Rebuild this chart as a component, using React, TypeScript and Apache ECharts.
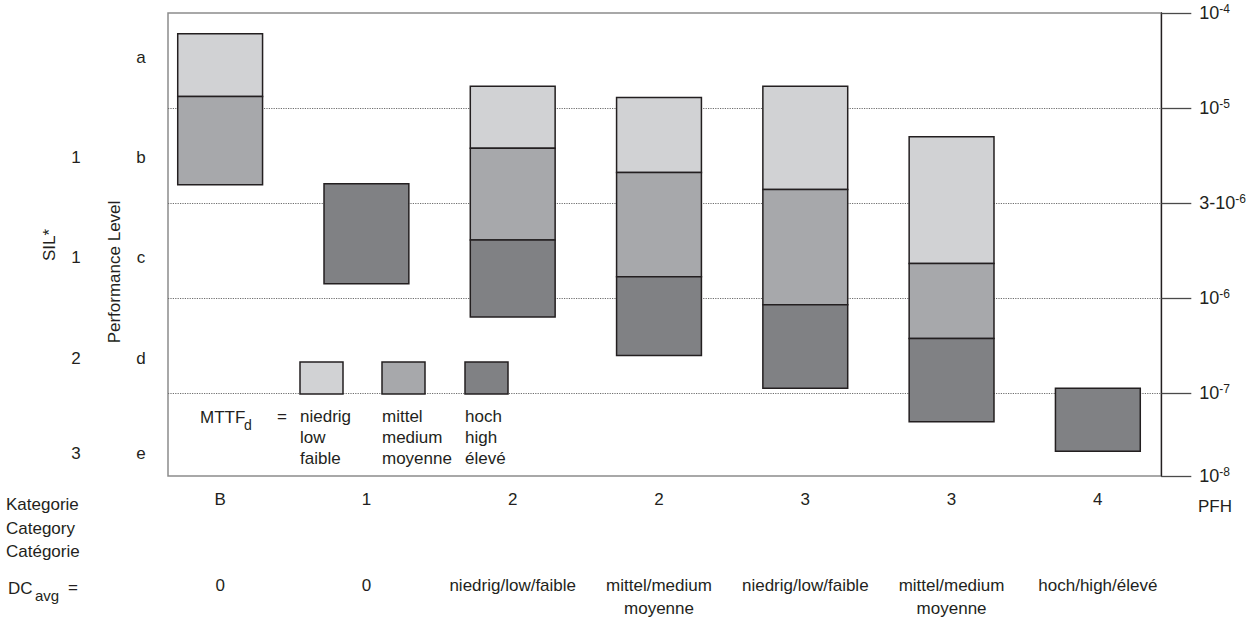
import React, { useEffect, useRef } from "react";
import * as echarts from "echarts";

// ---------- data ----------
// PL scale units: 10^-7 = 0, 10^-6 = 1, 3·10^-6 = 2, 10^-5 = 3, 10^-4 = 4, 10^-8 = -0.87
const categories = ["B", "1", "2", "2", "3", "3", "4"];
const dcLabels = [
  "0",
  "0",
  "niedrig/low/faible",
  "mittel/medium\nmoyenne",
  "niedrig/low/faible",
  "mittel/medium\nmoyenne",
  "hoch/high/élevé",
];
// [bottom, top] of each MTTFd band per category
const lowMTTF: (number[] | null)[] = [[3.11, 3.78], null, [2.56, 3.22], [2.3, 3.1], [2.12, 3.22], [1.33, 2.68], null];
const mediumMTTF: (number[] | null)[] = [[2.17, 3.11], null, [1.58, 2.56], [1.19, 2.3], [0.89, 2.12], [0.53, 1.33], null];
const highMTTF: (number[] | null)[] = [null, [1.115, 2.18], [0.76, 1.58], [0.35, 1.19], [0.0, 0.89], [-0.355, 0.53], [-0.67, 0.0]];

const pfhTickValues = [4, 3, 2, 1, 0, -0.87];
const pfhMantissa = ["10", "10", "3-10", "10", "10", "10"];
const pfhExponent = ["-4", "-5", "-6", "-6", "-7", "-8"];
const gridValues = [3, 2, 1, 0];

const plLetters = ["a", "b", "c", "d", "e"];
const silLabels = ["", "1", "1", "2", "3"];
const mttfLegend = ["niedrig\nlow\nfaible", "mittel\nmedium\nmoyenne", "hoch\nhigh\nélevé"];

// ---------- styles ----------
const FONT = '"Liberation Sans", Arial, sans-serif';
const FS = 17;
const INK = "#231f20";
const FILLS = ["#d1d2d4", "#a7a8ab", "#808184"];
const Y_MIN = -0.87;
const Y_MAX = 4;

export default function App() {
  const ref = useRef<HTMLDivElement>(null);

  useEffect(() => {
    const chart = echarts.init(ref.current!, null, { renderer: "svg" });

    const segs: number[][] = [];
    [lowMTTF, mediumMTTF, highMTTF].forEach((arr, level) =>
      arr.forEach((r, i) => {
        if (r) segs.push([i, r[0], r[1], level]);
      })
    );

    const txt = (text: string, x: number, y: number, extra: any = {}) => ({
      type: "text",
      x,
      y,
      silent: true,
      style: {
        text,
        fontFamily: FONT,
        fontSize: FS,
        fill: INK,
        textAlign: "left",
        textVerticalAlign: "middle",
        ...extra,
      },
    });

    const plRowsY = [57, 157, 257, 358, 453];
    const graphics: any[] = [];
    plLetters.forEach((l, i) => graphics.push(txt(l, 141, plRowsY[i], { textAlign: "center" })));
    silLabels.forEach((l, i) => {
      if (l) graphics.push(txt(l, 76, plRowsY[i], { textAlign: "center" }));
    });
    graphics.push({ ...txt("SIL*", 49, 245, { textAlign: "center" }), rotation: Math.PI / 2 });
    graphics.push({ ...txt("Performance Level", 114, 272, { textAlign: "center" }), rotation: Math.PI / 2 });

    // MTTFd legend
    const swX = [300, 382, 465];
    swX.forEach((x, i) => {
      graphics.push({
        type: "rect",
        shape: { x, y: 362, width: 43, height: 32 },
        style: { fill: FILLS[i], stroke: INK, lineWidth: 1.5 },
        z: 10,
        silent: true,
      });
      graphics.push(txt(mttfLegend[i], x, 406, { textVerticalAlign: "top", lineHeight: 21 }));
    });
    graphics.push(txt("MTTF", 200, 417));
    graphics.push(txt("d", 244, 425, { fontSize: 14 }));
    graphics.push(txt("=", 277, 416));

    // bottom left captions
    graphics.push(txt("Kategorie\nCategory\nCatégorie", 6, 493, { textVerticalAlign: "top", lineHeight: 23.5 }));
    graphics.push(txt("DC", 8, 588));
    graphics.push(txt("avg", 35, 595, { fontSize: 15 }));
    graphics.push(txt("=", 68, 587));
    graphics.push(txt("PFH", 1198, 506));

    const option: any = {
      animation: false,
      backgroundColor: "#ffffff",
      textStyle: { fontFamily: FONT },
      grid: [
        { left: 168, right: 87, top: 13, bottom: 144, show: true, borderColor: "#8c8c8c", borderWidth: 1.5, backgroundColor: "transparent" },
        { left: 147, right: 78, top: 13, bottom: 144, show: false },
      ],
      xAxis: [
        { gridIndex: 0, type: "value", min: 0, max: 1, show: false },
        {
          gridIndex: 1,
          type: "category",
          data: categories.map((_, i) => String(i)),
          axisLine: { show: false },
          axisTick: { show: false },
          splitLine: { show: false },
          axisLabel: {
            interval: 0,
            margin: 21,
            fontSize: FS,
            color: INK,
            fontFamily: FONT,
            formatter: (v: string) => categories[Number(v)],
          },
        },
        {
          gridIndex: 1,
          type: "category",
          position: "bottom",
          offset: 83,
          data: categories.map((_, i) => String(i)),
          axisLine: { show: false },
          axisTick: { show: false },
          splitLine: { show: false },
          axisLabel: {
            interval: 0,
            margin: 21,
            fontSize: FS,
            lineHeight: 23,
            color: INK,
            fontFamily: FONT,
            hideOverlap: false,
            formatter: (v: string) => dcLabels[Number(v)],
          },
        },
      ],
      yAxis: [
        {
          gridIndex: 0,
          type: "value",
          position: "right",
          min: Y_MIN,
          max: Y_MAX,
          splitLine: { show: false },
          axisLine: { show: true, onZero: false, lineStyle: { color: INK, width: 1.3 } },
          axisTick: { show: true, inside: false, length: 30, customValues: pfhTickValues, lineStyle: { color: "#4a4a4a", width: 1.3 } },
          axisLabel: {
            show: true,
            margin: 38,
            customValues: pfhTickValues,
            formatter: (v: number) => {
              const i = pfhTickValues.findIndex((t) => Math.abs(t - v) < 1e-6);
              if (i < 0) return "";
              return `{b|${pfhMantissa[i]}}{s|${pfhExponent[i]}}`;
            },
            rich: {
              b: { fontSize: 18, color: INK, fontFamily: FONT, lineHeight: 20 },
              s: { fontSize: 12, color: INK, fontFamily: FONT, verticalAlign: "top", lineHeight: 12 },
            },
          },
        },
        { gridIndex: 1, type: "value", min: Y_MIN, max: Y_MAX, show: false },
      ],
      graphic: graphics,
      series: [
        {
          type: "line",
          xAxisIndex: 0,
          yAxisIndex: 0,
          data: [[0, 0]],
          symbol: "none",
          lineStyle: { opacity: 0 },
          silent: true,
          z: 1,
          markLine: {
            silent: true,
            symbol: "none",
            label: { show: false },
            lineStyle: { type: "dotted", color: "#6d6d6d", width: 1.2 },
            data: gridValues.map((v) => ({ yAxis: v })),
          },
        },
        {
          type: "custom",
          xAxisIndex: 1,
          yAxisIndex: 1,
          z: 5,
          silent: true,
          encode: { x: 0, y: [1, 2] },
          data: segs,
          renderItem: (params: any, api: any) => {
            const i = api.value(0);
            const top = api.coord([i, api.value(2)]);
            const bot = api.coord([i, api.value(1)]);
            const w = api.size([1, 0])[0] * 0.58;
            return {
              type: "rect",
              shape: { x: top[0] - w / 2, y: top[1], width: w, height: bot[1] - top[1] },
              style: { fill: FILLS[api.value(3)], stroke: INK, lineWidth: 1.5 },
            };
          },
        },
      ],
    };

    chart.setOption(option);
    return () => chart.dispose();
  }, []);

  return (
    <div
      ref={ref}
      style={{ position: "fixed", left: 0, top: 0, width: 1249, height: 620, background: "#fff" }}
    />
  );
}
